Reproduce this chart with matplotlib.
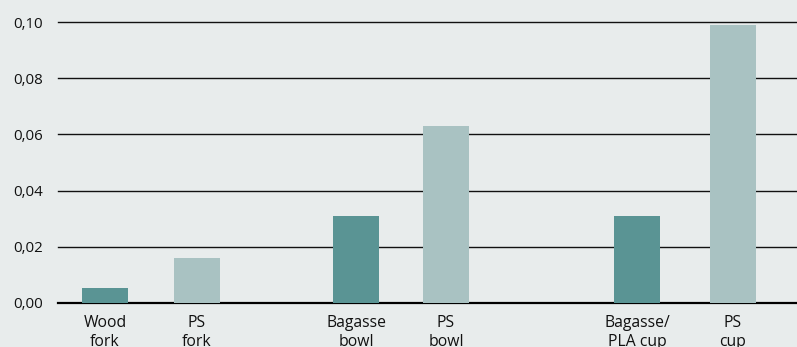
import matplotlib
matplotlib.use("Agg")
import matplotlib.pyplot as plt

categories = ["Wood\nfork", "PS\nfork", "Bagasse\nbowl", "PS\nbowl", "Bagasse/\nPLA cup", "PS\ncup"]
values = [0.0055, 0.016, 0.031, 0.063, 0.031, 0.099]
yticks = [0.00, 0.02, 0.04, 0.06, 0.08, 0.10]
ytick_labels = ["0,00", "0,02", "0,04", "0,06", "0,08", "0,10"]

# layout (pixel-like x coordinates of bar centres)
positions = [47, 139, 298, 388, 579, 675]
dark = "#5a9494"
light = "#a9c2c2"
colors = [dark, light, dark, light, dark, light]
bg = "#e8ecec"

plt.rcParams['font.family'] = ['Open Sans', 'DejaVu Sans']

fig = plt.figure(figsize=(7.97, 3.47), dpi=100, facecolor=bg)
ax = fig.add_axes([58/797, 1 - 303/347, 1 - 58/797, (303 - 22)/347])
ax.set_facecolor(bg)

ax.bar(positions, values, width=46, color=colors, zorder=3)

ax.set_xlim(0, 739)
ax.set_ylim(0, 0.10)
for i, t in enumerate(yticks):
    ax.axhline(t, color="#111111" if t > 0 else "#000000",
               lw=1.0 if t > 0 else 1.6, zorder=2, clip_on=False)

ax.set_yticks(yticks)
ax.set_yticklabels(ytick_labels, fontsize=10.8, color="#111111")
ax.set_xticks(positions)
ax.set_xticklabels(categories, fontsize=11.3, color="#111111", linespacing=1.3)
ax.tick_params(axis="y", length=0, pad=11)
ax.tick_params(axis="x", length=0, pad=8.5)
for s in ax.spines.values():
    s.set_visible(False)

fig.savefig("out.png", dpi=100, facecolor=bg)
